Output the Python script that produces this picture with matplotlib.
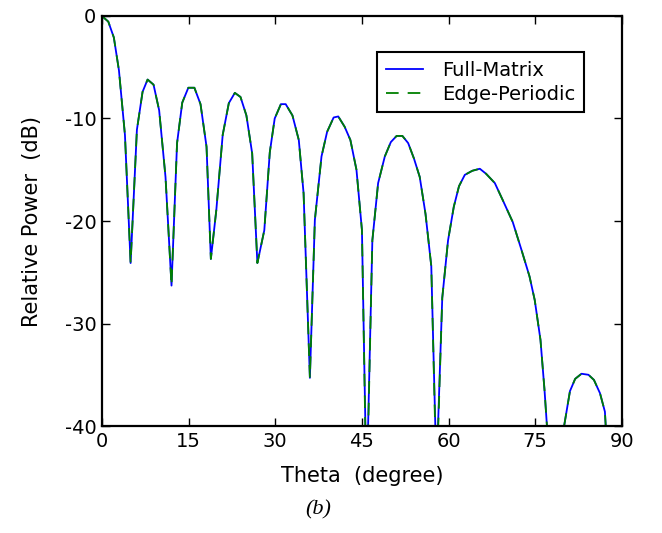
import numpy as np
import matplotlib
matplotlib.use('Agg')
import matplotlib.pyplot as plt

plt.rcParams['axes.unicode_minus'] = False
plt.rcParams['font.family'] = 'DejaVu Sans'

# Data (theta in degrees, relative power in dB)
theta = [0, 1.1, 2.06, 2.94, 3.98, 4.96, 6.05, 7.03, 7.9, 8.93,
         9.9, 11.0, 12.04, 13.0, 13.9, 14.95, 16.0, 17.06, 18.1, 18.85,
         19.8, 20.9, 21.96, 23.0, 23.98, 25.0, 26.0, 26.9, 28.1, 29.05,
         29.9, 30.97, 31.8, 32.97, 34.07, 34.9, 35.99, 36.85, 38.0, 38.97,
         40.1, 40.9, 42.0, 43.0, 44.05, 45.0, 45.8, 46.8, 47.8, 48.96,
         50.0, 51.0, 52.0, 53.0, 54.0, 55.0, 56.0, 57.0, 57.9, 58.9,
         59.9, 60.9, 61.8, 62.8, 64.1, 65.4, 66.5, 68.0, 69.4, 71.1,
         72.6, 74.0, 74.9, 75.9, 76.6, 77.5, 78.5, 79.9, 81.0, 81.9,
         83.0, 84.2, 85.15, 86.2, 87.05, 88.0, 89.0]

full_matrix = [0, -0.55, -2.1, -5.3, -11.6, -24.1, -11.1, -7.4, -6.2, -6.7,
               -9.2, -15.7, -26.3, -12.4, -8.45, -7.0, -7.0, -8.6, -12.75, -23.7,
               -18.9, -11.6, -8.5, -7.5, -7.9, -9.7, -13.4, -24.1, -20.9, -13.3,
               -10.0, -8.6, -8.6, -9.7, -12.1, -17.3, -35.3, -19.9, -13.7, -11.3,
               -9.9, -9.8, -10.8, -12.1, -15.0, -20.9, -46.5, -21.9, -16.3, -13.7,
               -12.3, -11.7, -11.7, -12.4, -13.9, -15.7, -19.3, -24.4, -44.5, -27.5,
               -21.9, -18.6, -16.6, -15.5, -15.1, -14.9, -15.4, -16.3, -18.0, -20.1,
               -22.8, -25.4, -27.7, -31.6, -36.5, -44, -60, -40.3, -36.6, -35.4,
               -34.9, -35.0, -35.5, -36.8, -38.6, -48, -60]

edge_periodic = [0, -0.55, -2.1, -5.3, -11.6, -24.1, -11.1, -7.4, -6.2, -6.7,
                 -9.2, -15.7, -26.3, -12.4, -8.45, -7.0, -7.0, -8.6, -12.75, -23.7,
                 -18.9, -11.6, -8.5, -7.5, -7.9, -9.7, -13.4, -24.1, -20.9, -13.3,
                 -10.0, -8.6, -8.6, -9.7, -12.1, -17.3, -35.3, -19.9, -13.7, -11.3,
                 -9.9, -9.8, -10.8, -12.1, -15.0, -20.9, -47.5, -21.9, -16.3, -13.7,
                 -12.3, -11.7, -11.7, -12.4, -13.9, -15.7, -19.3, -24.4, -45.5, -27.5,
                 -21.9, -18.6, -16.6, -15.5, -15.1, -14.9, -15.4, -16.3, -18.0, -20.1,
                 -22.8, -25.4, -27.7, -31.6, -36.5, -44, -60, -40.3, -36.6, -35.4,
                 -34.9, -35.0, -35.5, -36.8, -38.6, -48, -60]

fig = plt.figure(figsize=(6.62, 5.33), dpi=100)
ax = fig.add_axes([0.154, 0.2007, 0.7855, 0.7693])

ax.plot(theta, full_matrix, color='b', lw=1.3, label='Full-Matrix')
ax.plot(theta, edge_periodic, color='g', lw=1.3, ls=(0, (7, 5)), label='Edge-Periodic')

ax.set_xlim(0, 90)
ax.set_ylim(-40, 0)
ax.set_xticks(np.arange(0, 91, 15))
ax.set_yticks(np.arange(-40, 1, 10))
ax.tick_params(direction='in', top=True, right=True, length=6, width=1,
               labelsize=14, pad=4)
for s in ax.spines.values():
    s.set_linewidth(1.6)

ax.set_xlabel('Theta  (degree)', fontsize=15, labelpad=11)
ax.set_ylabel('Relative Power  (dB)', fontsize=15, labelpad=16)

leg = ax.legend(loc='upper right', bbox_to_anchor=(0.927, 0.912), fontsize=14,
                fancybox=False, framealpha=1, edgecolor='black', borderaxespad=0,
                handlelength=1.9, borderpad=0.45, labelspacing=0.25, handletextpad=1.0)
leg.get_frame().set_linewidth(1.5)

fig.text(0.48, 0.043, '(b)', fontsize=16, style='italic',
         family='Liberation Serif', ha='center', va='center')

fig.savefig('out.png', dpi=100)
